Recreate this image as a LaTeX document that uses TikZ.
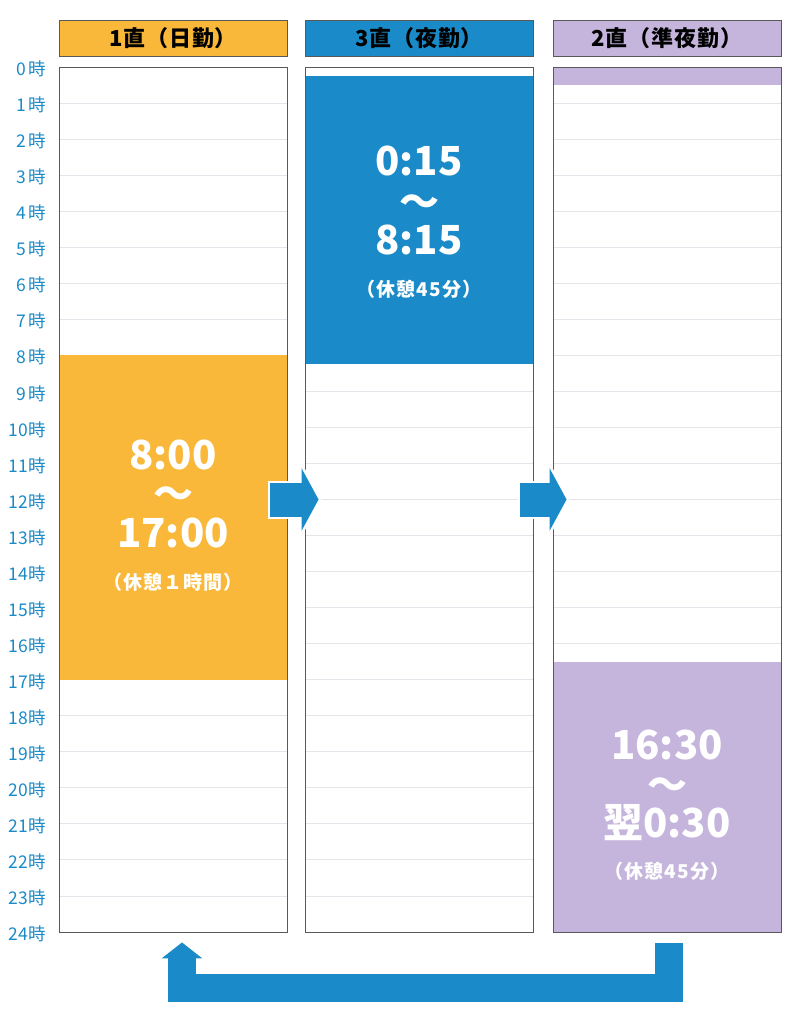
\documentclass[tikz,border=0pt]{standalone}
\usepackage{fontspec}
\setmainfont{Noto Sans CJK JP}
\usetikzlibrary{arrows.meta}

\definecolor{dayorange}{HTML}{F9B83A}
\definecolor{nightblue}{HTML}{1A8BC8}
\definecolor{lateviolet}{HTML}{C5B5DC}
\definecolor{gridgray}{HTML}{E4E4EA}

% y position of an hour line
\newcommand{\hy}[1]{67+36.04*(#1)}

\begin{document}
\begin{tikzpicture}[x=1pt, y=-1pt,
shifthead/.style={draw=black!65, line width=0.9pt, minimum width=228pt, minimum height=36pt, inner sep=0pt, font=\bfseries\fontsize{22}{22}\selectfont\addfontfeature{LetterSpace=4}},
colframe/.style={draw=black!65, line width=0.9pt, minimum width=228pt, minimum height=865pt, inner sep=0pt},
gridline/.style={draw=gridgray, line width=0.8pt},
hourlabel/.style={anchor=east, inner sep=0pt, text=nightblue, font=\fontsize{17.5}{17.5}\selectfont},
bigtime/.style={inner sep=0pt, text height=29pt, text depth=0pt, text=white, font=\bfseries\fontsize{40}{40}\selectfont},
tildemark/.style={inner sep=0pt, text height=22pt, text depth=-10pt, text=white, font=\bfseries\fontsize{40}{40}\selectfont},
breaktime/.style={inner sep=0pt, text=white, font=\bfseries\fontsize{19}{19}\selectfont\addfontfeature{LetterSpace=6}},
halo/.style={preaction={draw=white, line width=#1, shorten >=-3pt, shorten <=-2pt}},
shiftarrow/.style={draw=nightblue, line width=34pt, -{Triangle[length=17pt,width=62pt]}, halo=38pt},
backarrow/.style={draw=nightblue, line width=28pt, line join=miter, -{Triangle[length=16pt,width=40pt]}, halo=32pt}]
\useasboundingbox (0,0) rectangle (800,1031);

% headers
\node[shifthead, fill=dayorange] (dayhead) at (173,38) {1直（日勤）};
\node[shifthead, fill=nightblue] (nighthead) at (419,38) {3直（夜勤）};
\node[shifthead, fill=lateviolet] (latehead) at (667,38) {2直（準夜勤）};

% hour labels
\foreach \h in {0,...,24}
  \node[hourlabel] (h\h) at (46,{\hy{\h}+2}) {\ifnum\h<10 \h\hspace{2.5pt}\else\h\fi 時};

% hour lines
\foreach \x in {59,305,553}
  \foreach \h in {1,...,23}
    \draw[gridline] (\x,{\hy{\h}}) -- ++(228,0);

% working hours
\fill[dayorange] (59,{\hy{8}}) rectangle (287,{\hy{17}});
\fill[nightblue] (305,{\hy{0.25}}) rectangle (533,{\hy{8.25}});
\fill[lateviolet] (553,{\hy{0}}) rectangle (781,{\hy{0.5}});
\fill[lateviolet] (553,{\hy{16.5}}) rectangle (781,{\hy{24}});

% columns
\node[colframe] (day) at (173,499.5) {};
\node[colframe] (night) at (419,499.5) {};
\node[colframe] (late) at (667,499.5) {};

% times
\node[bigtime] (daystart) at (173,455) {8:00};
\node[tildemark] (daytilde) at (173,497) {～};
\node[bigtime] (dayend) at (173,533) {17:00};
\node[breaktime] (daybreak) at (173,582) {（休憩１時間）};

\node[bigtime] (nightstart) at (419,161) {0:15};
\node[tildemark] (nighttilde) at (419,205) {～};
\node[bigtime] (nightend) at (419,240) {8:15};
\node[breaktime] (nightbreak) at (419,289) {（休憩45分）};

\node[bigtime] (latestart) at (667,745) {16:30};
\node[tildemark] (latetilde) at (667,788) {～};
\node[bigtime] (lateend) at (667,823) {翌0:30};
\node[breaktime] (latebreak) at (667,871) {（休憩45分）};

% rotation
\draw[shiftarrow] ([xshift=-17pt]day.east) -- ([xshift=14pt]night.west);
\draw[shiftarrow] ([xshift=-13pt]night.east) -- ([xshift=14pt]late.west);
\draw[backarrow] ([xshift=1.5pt,yshift=-11pt]late.south) -- ++(0,45) -| ([xshift=9pt,yshift=-10pt]day.south);
\end{tikzpicture}
\end{document}
